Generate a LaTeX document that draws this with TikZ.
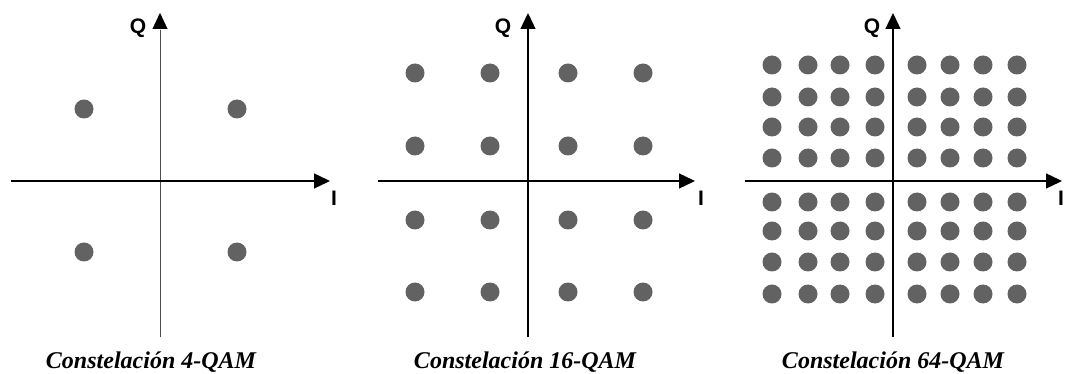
\documentclass[tikz,border=0pt]{standalone}
\usepackage{fontspec}
\setmainfont{Liberation Serif}
\newfontfamily\labelfont{Liberation Sans}
\usetikzlibrary{arrows.meta}
\definecolor{dotgray}{HTML}{626262}
\tikzset{
  axis/.style={line width=1.3pt, -{Triangle[length=16pt,width=15pt]}},
  thinaxis/.style={line width=0.9pt, draw=black!70},
  dot/.style={circle, fill=dotgray, minimum size=19pt, inner sep=0pt},
  axlabel/.style={font=\labelfont\bfseries\fontsize{21}{21}\selectfont, inner sep=0pt},
  caption/.style={font=\bfseries\itshape\fontsize{24}{24}\selectfont, inner sep=0pt}
}
\begin{document}
\begin{tikzpicture}[x=1pt,y=-1pt]
\useasboundingbox (0,0) rectangle (1066,374);
% ---- Panel 1: 4-QAM
\coordinate (a1l) at (11,181);
\coordinate (a1r) at (330,181);
\coordinate (a1b) at (160,337);
\coordinate (a1m) at (160,30);
\coordinate (a1t) at (160,13);
\draw[thinaxis] (a1b) -- (a1m);
\draw[axis, line width=0.01pt] (a1m) -- (a1t);
\draw[axis] (a1l) -- (a1r);
\node[axlabel] (q1) at (138,28) {Q};
\node[axlabel] (i1) at (334,198) {I};
\foreach \x [count=\i] in {84,237}
  \foreach \y [count=\j] in {109,252}
    \node[dot] (d1-\i-\j) at (\x,\y) {};
\node[caption] (c1) at (151,362) {Constelación 4-QAM};
% ---- Panel 2: 16-QAM
\coordinate (a2l) at (378,181);
\coordinate (a2r) at (695,181);
\coordinate (a2b) at (528,337);
\coordinate (a2t) at (528,13);
\draw[axis] (a2b) -- (a2t);
\draw[axis] (a2l) -- (a2r);
\node[axlabel] (q2) at (503,28) {Q};
\node[axlabel] (i2) at (701,198) {I};
\foreach \x [count=\i] in {415,490,568,643}
  \foreach \y [count=\j] in {73,146,220,292}
    \node[dot] (d2-\i-\j) at (\x,\y) {};
\node[caption] (c2) at (525,362) {Constelación 16-QAM};
% ---- Panel 3: 64-QAM
\coordinate (a3l) at (745,181);
\coordinate (a3r) at (1062,181);
\coordinate (a3b) at (893,337);
\coordinate (a3t) at (893,13);
\draw[axis] (a3b) -- (a3t);
\draw[axis] (a3l) -- (a3r);
\node[axlabel] (q3) at (872,28) {Q};
\node[axlabel] (i3) at (1061,198) {I};
\foreach \x [count=\i] in {772,808,840,875,917,950,983,1017}
  \foreach \y [count=\j] in {65,97,127,158,202,231,262,294}
    \node[dot] (d3-\i-\j) at (\x,\y) {};
\node[caption] (c3) at (893,362) {Constelación 64-QAM};
\end{tikzpicture}
\end{document}
